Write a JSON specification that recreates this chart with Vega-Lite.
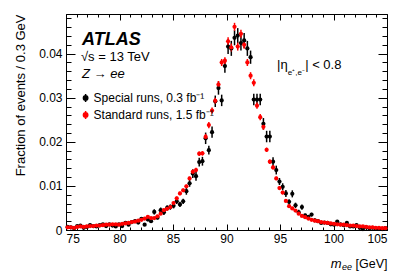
{
"$schema": "https://vega.github.io/schema/vega-lite/v6.json",
"width": 321, "height": 216,
"autosize": {"type": "none"},
"padding": {"left": 66, "top": 14, "right": 20, "bottom": 47},
"background": "white",
"config": {
  "font": "Liberation Sans",
  "view": {"stroke": "black", "strokeWidth": 1},
  "axis": {"grid": false, "domain": false, "labelColor": "black", "titleColor": "black", "tickColor": "black", "tickWidth": 1, "labelFont": "Liberation Sans", "titleFont": "Liberation Sans", "labelFontSize": 12, "titleFontSize": 12.5, "titleFontWeight": "normal"},
  "legend": {"orient": "none", "legendX": 13.6, "legendY": 78, "title": null, "padding": 0, "symbolType": "M0,-1V1M-0.55,0A0.55,0.55,0,1,1,0.55,0A0.55,0.55,0,1,1,-0.55,0Z", "symbolSize": 64, "symbolStrokeWidth": 1.5, "labelFontSize": 12, "labelFont": "Liberation Sans", "labelColor": "black", "labelOffset": 2, "rowPadding": 3},
  "text": {"font": "Liberation Sans", "color": "black"}
},
"datasets": {"pts": [
{"m":75.15,"f":0.0007,"e":0.0003,"s":"Special"},
{"m":75.45,"f":0.0006,"e":0.0003,"s":"Special"},
{"m":75.75,"f":0.0004,"e":0.0003,"s":"Special"},
{"m":76.05,"f":0.0009,"e":0.0003,"s":"Special"},
{"m":76.35,"f":0.0010,"e":0.0003,"s":"Special"},
{"m":76.65,"f":0.0005,"e":0.0003,"s":"Special"},
{"m":76.95,"f":0.0007,"e":0.0003,"s":"Special"},
{"m":77.25,"f":0.0011,"e":0.0003,"s":"Special"},
{"m":77.55,"f":0.0009,"e":0.0003,"s":"Special"},
{"m":77.85,"f":0.0008,"e":0.0003,"s":"Special"},
{"m":78.15,"f":0.0011,"e":0.0003,"s":"Special"},
{"m":78.45,"f":0.0013,"e":0.0003,"s":"Special"},
{"m":78.75,"f":0.0009,"e":0.0003,"s":"Special"},
{"m":79.05,"f":0.0013,"e":0.0003,"s":"Special"},
{"m":79.35,"f":0.0010,"e":0.0003,"s":"Special"},
{"m":79.65,"f":0.0008,"e":0.0003,"s":"Special"},
{"m":79.95,"f":0.0013,"e":0.0003,"s":"Special"},
{"m":80.25,"f":0.0009,"e":0.0003,"s":"Special"},
{"m":80.55,"f":0.0016,"e":0.0003,"s":"Special"},
{"m":80.85,"f":0.0012,"e":0.0003,"s":"Special"},
{"m":81.15,"f":0.0018,"e":0.0003,"s":"Special"},
{"m":81.45,"f":0.0020,"e":0.0004,"s":"Special"},
{"m":81.75,"f":0.0017,"e":0.0003,"s":"Special"},
{"m":82.05,"f":0.0025,"e":0.0004,"s":"Special"},
{"m":82.35,"f":0.0012,"e":0.0003,"s":"Special"},
{"m":82.65,"f":0.0024,"e":0.0004,"s":"Special"},
{"m":82.95,"f":0.0020,"e":0.0004,"s":"Special"},
{"m":83.25,"f":0.0041,"e":0.0006,"s":"Special"},
{"m":83.55,"f":0.0028,"e":0.0004,"s":"Special"},
{"m":83.85,"f":0.0045,"e":0.0006,"s":"Special"},
{"m":84.15,"f":0.0040,"e":0.0006,"s":"Special"},
{"m":84.45,"f":0.0050,"e":0.0006,"s":"Special"},
{"m":84.75,"f":0.0052,"e":0.0006,"s":"Special"},
{"m":85.05,"f":0.0055,"e":0.0006,"s":"Special"},
{"m":85.35,"f":0.0065,"e":0.0006,"s":"Special"},
{"m":85.65,"f":0.0058,"e":0.0006,"s":"Special"},
{"m":85.95,"f":0.0065,"e":0.0006,"s":"Special"},
{"m":86.25,"f":0.0088,"e":0.0008,"s":"Special"},
{"m":86.55,"f":0.0106,"e":0.0008,"s":"Special"},
{"m":86.85,"f":0.0128,"e":0.0010,"s":"Special"},
{"m":87.15,"f":0.0122,"e":0.0010,"s":"Special"},
{"m":87.45,"f":0.0154,"e":0.0010,"s":"Special"},
{"m":87.75,"f":0.0156,"e":0.0010,"s":"Special"},
{"m":88.05,"f":0.0208,"e":0.0013,"s":"Special"},
{"m":88.35,"f":0.0181,"e":0.0010,"s":"Special"},
{"m":88.65,"f":0.0222,"e":0.0013,"s":"Special"},
{"m":88.95,"f":0.0292,"e":0.0013,"s":"Special"},
{"m":89.25,"f":0.0322,"e":0.0015,"s":"Special"},
{"m":89.55,"f":0.0294,"e":0.0013,"s":"Special"},
{"m":89.85,"f":0.0372,"e":0.0015,"s":"Special"},
{"m":90.15,"f":0.0416,"e":0.0017,"s":"Special"},
{"m":90.45,"f":0.0412,"e":0.0017,"s":"Special"},
{"m":90.75,"f":0.0436,"e":0.0017,"s":"Special"},
{"m":91.05,"f":0.0441,"e":0.0017,"s":"Special"},
{"m":91.35,"f":0.0424,"e":0.0017,"s":"Special"},
{"m":91.65,"f":0.0430,"e":0.0017,"s":"Special"},
{"m":91.95,"f":0.0412,"e":0.0017,"s":"Special"},
{"m":92.25,"f":0.0392,"e":0.0015,"s":"Special"},
{"m":92.55,"f":0.0296,"e":0.0013,"s":"Special"},
{"m":92.85,"f":0.0296,"e":0.0013,"s":"Special"},
{"m":93.15,"f":0.0296,"e":0.0013,"s":"Special"},
{"m":93.45,"f":0.0241,"e":0.0013,"s":"Special"},
{"m":93.75,"f":0.0212,"e":0.0013,"s":"Special"},
{"m":94.05,"f":0.0212,"e":0.0013,"s":"Special"},
{"m":94.35,"f":0.0155,"e":0.0010,"s":"Special"},
{"m":94.65,"f":0.0136,"e":0.0010,"s":"Special"},
{"m":94.95,"f":0.0110,"e":0.0008,"s":"Special"},
{"m":95.25,"f":0.0098,"e":0.0008,"s":"Special"},
{"m":95.55,"f":0.0083,"e":0.0008,"s":"Special"},
{"m":95.85,"f":0.0064,"e":0.0006,"s":"Special"},
{"m":96.15,"f":0.0082,"e":0.0008,"s":"Special"},
{"m":96.45,"f":0.0056,"e":0.0006,"s":"Special"},
{"m":96.75,"f":0.0040,"e":0.0006,"s":"Special"},
{"m":97.05,"f":0.0052,"e":0.0006,"s":"Special"},
{"m":97.35,"f":0.0033,"e":0.0004,"s":"Special"},
{"m":97.65,"f":0.0030,"e":0.0004,"s":"Special"},
{"m":97.95,"f":0.0035,"e":0.0004,"s":"Special"},
{"m":98.25,"f":0.0022,"e":0.0004,"s":"Special"},
{"m":98.55,"f":0.0020,"e":0.0004,"s":"Special"},
{"m":98.85,"f":0.0016,"e":0.0003,"s":"Special"},
{"m":99.15,"f":0.0017,"e":0.0003,"s":"Special"},
{"m":99.45,"f":0.0016,"e":0.0003,"s":"Special"},
{"m":99.75,"f":0.0013,"e":0.0003,"s":"Special"},
{"m":100.05,"f":0.0012,"e":0.0003,"s":"Special"},
{"m":100.35,"f":0.0019,"e":0.0003,"s":"Special"},
{"m":100.65,"f":0.0013,"e":0.0003,"s":"Special"},
{"m":100.95,"f":0.0011,"e":0.0003,"s":"Special"},
{"m":101.25,"f":0.0016,"e":0.0003,"s":"Special"},
{"m":101.55,"f":0.0008,"e":0.0003,"s":"Special"},
{"m":101.85,"f":0.0008,"e":0.0003,"s":"Special"},
{"m":102.15,"f":0.0011,"e":0.0003,"s":"Special"},
{"m":102.45,"f":0.0005,"e":0.0003,"s":"Special"},
{"m":102.75,"f":0.0002,"e":0.0003,"s":"Special"},
{"m":103.05,"f":0.0006,"e":0.0003,"s":"Special"},
{"m":103.35,"f":0.0004,"e":0.0003,"s":"Special"},
{"m":103.65,"f":0.0005,"e":0.0003,"s":"Special"},
{"m":103.95,"f":0.0003,"e":0.0003,"s":"Special"},
{"m":104.25,"f":0.0003,"e":0.0003,"s":"Special"},
{"m":104.55,"f":0.0002,"e":0.0003,"s":"Special"},
{"m":104.85,"f":0.0004,"e":0.0003,"s":"Special"},
{"m":75.15,"f":0.0006,"e":0.0002,"s":"Standard"},
{"m":75.45,"f":0.0006,"e":0.0002,"s":"Standard"},
{"m":75.75,"f":0.0005,"e":0.0002,"s":"Standard"},
{"m":76.05,"f":0.0007,"e":0.0002,"s":"Standard"},
{"m":76.35,"f":0.0008,"e":0.0002,"s":"Standard"},
{"m":76.65,"f":0.0007,"e":0.0002,"s":"Standard"},
{"m":76.95,"f":0.0008,"e":0.0002,"s":"Standard"},
{"m":77.25,"f":0.0009,"e":0.0002,"s":"Standard"},
{"m":77.55,"f":0.0009,"e":0.0002,"s":"Standard"},
{"m":77.85,"f":0.0010,"e":0.0002,"s":"Standard"},
{"m":78.15,"f":0.0010,"e":0.0002,"s":"Standard"},
{"m":78.45,"f":0.0011,"e":0.0002,"s":"Standard"},
{"m":78.75,"f":0.0012,"e":0.0002,"s":"Standard"},
{"m":79.05,"f":0.0012,"e":0.0002,"s":"Standard"},
{"m":79.35,"f":0.0013,"e":0.0002,"s":"Standard"},
{"m":79.65,"f":0.0013,"e":0.0002,"s":"Standard"},
{"m":79.95,"f":0.0012,"e":0.0002,"s":"Standard"},
{"m":80.25,"f":0.0014,"e":0.0002,"s":"Standard"},
{"m":80.55,"f":0.0015,"e":0.0002,"s":"Standard"},
{"m":80.85,"f":0.0016,"e":0.0002,"s":"Standard"},
{"m":81.15,"f":0.0018,"e":0.0002,"s":"Standard"},
{"m":81.45,"f":0.0019,"e":0.0002,"s":"Standard"},
{"m":81.75,"f":0.0021,"e":0.0002,"s":"Standard"},
{"m":82.05,"f":0.0023,"e":0.0002,"s":"Standard"},
{"m":82.35,"f":0.0026,"e":0.0002,"s":"Standard"},
{"m":82.65,"f":0.0030,"e":0.0002,"s":"Standard"},
{"m":82.95,"f":0.0027,"e":0.0002,"s":"Standard"},
{"m":83.25,"f":0.0027,"e":0.0002,"s":"Standard"},
{"m":83.55,"f":0.0031,"e":0.0002,"s":"Standard"},
{"m":83.85,"f":0.0037,"e":0.0002,"s":"Standard"},
{"m":84.15,"f":0.0045,"e":0.0003,"s":"Standard"},
{"m":84.45,"f":0.0048,"e":0.0003,"s":"Standard"},
{"m":84.75,"f":0.0052,"e":0.0003,"s":"Standard"},
{"m":85.05,"f":0.0061,"e":0.0003,"s":"Standard"},
{"m":85.35,"f":0.0072,"e":0.0004,"s":"Standard"},
{"m":85.65,"f":0.0083,"e":0.0004,"s":"Standard"},
{"m":85.95,"f":0.0090,"e":0.0004,"s":"Standard"},
{"m":86.25,"f":0.0099,"e":0.0004,"s":"Standard"},
{"m":86.55,"f":0.0117,"e":0.0004,"s":"Standard"},
{"m":86.85,"f":0.0132,"e":0.0005,"s":"Standard"},
{"m":87.15,"f":0.0136,"e":0.0005,"s":"Standard"},
{"m":87.45,"f":0.0173,"e":0.0005,"s":"Standard"},
{"m":87.75,"f":0.0174,"e":0.0005,"s":"Standard"},
{"m":88.05,"f":0.0211,"e":0.0007,"s":"Standard"},
{"m":88.35,"f":0.0238,"e":0.0007,"s":"Standard"},
{"m":88.65,"f":0.0271,"e":0.0007,"s":"Standard"},
{"m":88.95,"f":0.0293,"e":0.0007,"s":"Standard"},
{"m":89.25,"f":0.0330,"e":0.0008,"s":"Standard"},
{"m":89.55,"f":0.0380,"e":0.0008,"s":"Standard"},
{"m":89.85,"f":0.0384,"e":0.0008,"s":"Standard"},
{"m":90.15,"f":0.0428,"e":0.0009,"s":"Standard"},
{"m":90.45,"f":0.0414,"e":0.0009,"s":"Standard"},
{"m":90.75,"f":0.0461,"e":0.0009,"s":"Standard"},
{"m":91.05,"f":0.0416,"e":0.0009,"s":"Standard"},
{"m":91.35,"f":0.0445,"e":0.0009,"s":"Standard"},
{"m":91.65,"f":0.0420,"e":0.0009,"s":"Standard"},
{"m":91.95,"f":0.0380,"e":0.0008,"s":"Standard"},
{"m":92.25,"f":0.0350,"e":0.0008,"s":"Standard"},
{"m":92.55,"f":0.0334,"e":0.0008,"s":"Standard"},
{"m":92.85,"f":0.0282,"e":0.0007,"s":"Standard"},
{"m":93.15,"f":0.0256,"e":0.0007,"s":"Standard"},
{"m":93.45,"f":0.0234,"e":0.0007,"s":"Standard"},
{"m":93.75,"f":0.0182,"e":0.0005,"s":"Standard"},
{"m":94.05,"f":0.0155,"e":0.0005,"s":"Standard"},
{"m":94.35,"f":0.0142,"e":0.0005,"s":"Standard"},
{"m":94.65,"f":0.0117,"e":0.0004,"s":"Standard"},
{"m":94.95,"f":0.0095,"e":0.0004,"s":"Standard"},
{"m":95.25,"f":0.0085,"e":0.0004,"s":"Standard"},
{"m":95.55,"f":0.0066,"e":0.0003,"s":"Standard"},
{"m":95.85,"f":0.0054,"e":0.0003,"s":"Standard"},
{"m":96.15,"f":0.0049,"e":0.0003,"s":"Standard"},
{"m":96.45,"f":0.0044,"e":0.0003,"s":"Standard"},
{"m":96.75,"f":0.0037,"e":0.0002,"s":"Standard"},
{"m":97.05,"f":0.0032,"e":0.0002,"s":"Standard"},
{"m":97.35,"f":0.0029,"e":0.0002,"s":"Standard"},
{"m":97.65,"f":0.0026,"e":0.0002,"s":"Standard"},
{"m":97.95,"f":0.0023,"e":0.0002,"s":"Standard"},
{"m":98.25,"f":0.0021,"e":0.0002,"s":"Standard"},
{"m":98.55,"f":0.0020,"e":0.0002,"s":"Standard"},
{"m":98.85,"f":0.0018,"e":0.0002,"s":"Standard"},
{"m":99.15,"f":0.0017,"e":0.0002,"s":"Standard"},
{"m":99.45,"f":0.0016,"e":0.0002,"s":"Standard"},
{"m":99.75,"f":0.0015,"e":0.0002,"s":"Standard"},
{"m":100.05,"f":0.0014,"e":0.0002,"s":"Standard"},
{"m":100.35,"f":0.0013,"e":0.0002,"s":"Standard"},
{"m":100.65,"f":0.0012,"e":0.0002,"s":"Standard"},
{"m":100.95,"f":0.0012,"e":0.0002,"s":"Standard"},
{"m":101.25,"f":0.0011,"e":0.0002,"s":"Standard"},
{"m":101.55,"f":0.0010,"e":0.0002,"s":"Standard"},
{"m":101.85,"f":0.0010,"e":0.0002,"s":"Standard"},
{"m":102.15,"f":0.0009,"e":0.0002,"s":"Standard"},
{"m":102.45,"f":0.0008,"e":0.0002,"s":"Standard"},
{"m":102.75,"f":0.0008,"e":0.0002,"s":"Standard"},
{"m":103.05,"f":0.0007,"e":0.0002,"s":"Standard"},
{"m":103.35,"f":0.0006,"e":0.0002,"s":"Standard"},
{"m":103.65,"f":0.0006,"e":0.0002,"s":"Standard"},
{"m":103.95,"f":0.0005,"e":0.0002,"s":"Standard"},
{"m":104.25,"f":0.0005,"e":0.0002,"s":"Standard"},
{"m":104.55,"f":0.0004,"e":0.0002,"s":"Standard"},
{"m":104.85,"f":0.0004,"e":0.0002,"s":"Standard"}
]},
"layer": [
{
  "data": {"name": "pts"},
  "mark": {"type": "errorbar", "thickness": 1.5},
  "encoding": {
    "x": {"field": "m", "type": "quantitative", "axis": null},
    "y": {"field": "f", "type": "quantitative", "axis": null},
    "yError": {"field": "e"},
    "color": {"field": "s", "type": "nominal", "scale": {"domain": ["Special", "Standard"], "range": ["#000000", "#ff0000"]},
      "legend": {"labelExpr": "datum.label == 'Special' ? 'Special runs, 0.3 fb⁻¹' : 'Standard runs, 1.5 fb⁻¹'"}}
  }
},
{
  "data": {"name": "pts"},
  "mark": {"type": "point", "filled": true, "size": 18, "opacity": 1},
  "encoding": {
    "x": {"field": "m", "type": "quantitative", "scale": {"domain": [75, 105], "nice": false, "zero": false},
      "axis": {"orient": "bottom", "values": [75, 80, 85, 90, 95, 100, 105], "labels": true, "ticks": false, "labelPadding": 3, "title": "[GeV]", "titleX": 321, "titleY": 37, "titleAlign": "right", "titleBaseline": "alphabetic"}},
    "y": {"field": "f", "type": "quantitative", "scale": {"domain": [0, 0.049], "nice": false, "zero": true},
      "axis": {"orient": "left", "values": [0, 0.01, 0.02, 0.03, 0.04], "format": "~g", "labels": true, "ticks": false, "labelPadding": 4, "title": "Fraction of events / 0.3 GeV", "titleX": -42, "titleY": 0, "titleAngle": 270, "titleAlign": "right", "titleBaseline": "alphabetic", "titleFontSize": 13}},
    "color": {"field": "s", "type": "nominal", "scale": {"domain": ["Special", "Standard"], "range": ["#000000", "#ff0000"]},
      "legend": {"labelExpr": "datum.label == 'Special' ? 'Special runs, 0.3 fb⁻¹' : 'Standard runs, 1.5 fb⁻¹'",
        "encode": {"symbols": {"update": {"stroke": {"scale": "color", "field": "value"}, "fill": {"scale": "color", "field": "value"}}}}}}
  }
},
{
  "data": {"values": [{}]},
  "mark": {"type": "text", "text": "ATLAS", "fontSize": 18, "fontWeight": "bold", "fontStyle": "italic", "align": "left", "baseline": "alphabetic"},
  "encoding": {
    "x": {"datum": 76.5, "type": "quantitative", "axis": {"orient": "bottom", "values": [75, 80, 85, 90, 95, 100, 105], "labels": false, "ticks": true, "tickSize": -6, "title": "m", "titleFontStyle": "italic", "titleFontSize": 13, "titleX": 264.3, "titleY": 37, "titleAlign": "left", "titleBaseline": "alphabetic"}},
    "y": {"datum": 0.0419, "type": "quantitative", "axis": {"orient": "left", "values": [0, 0.01, 0.02, 0.03, 0.04], "labels": false, "ticks": true, "tickSize": -9, "title": null}}
  }
},
{
  "data": {"values": [{}]},
  "mark": {"type": "text", "text": "√s = 13 TeV", "fontSize": 13, "align": "left", "baseline": "alphabetic"},
  "encoding": {
    "x": {"datum": 76.4, "type": "quantitative", "axis": {"orient": "bottom", "values": [75,76,77,78,79,80,81,82,83,84,85,86,87,88,89,90,91,92,93,94,95,96,97,98,99,100,101,102,103,104,105], "labels": false, "ticks": true, "tickSize": -3, "title": "ee", "titleFontStyle": "italic", "titleFontSize": 9, "titleX": 275.5, "titleY": 39.5, "titleAlign": "left", "titleBaseline": "alphabetic"}},
    "y": {"datum": 0.0383, "type": "quantitative", "axis": {"orient": "left", "values": [0,0.002,0.004,0.006,0.008,0.01,0.012,0.014,0.016,0.018,0.02,0.022,0.024,0.026,0.028,0.03,0.032,0.034,0.036,0.038,0.04,0.042,0.044,0.046,0.048], "labels": false, "ticks": true, "tickSize": -5, "title": null}}
  }
},
{
  "data": {"values": [{}]},
  "mark": {"type": "text", "text": "Z → ee", "fontSize": 13, "fontStyle": "italic", "align": "left", "baseline": "alphabetic"},
  "encoding": {
    "x": {"datum": 76.5, "type": "quantitative", "axis": {"orient": "top", "values": [75, 80, 85, 90, 95, 100, 105], "labels": false, "ticks": true, "tickSize": -6, "title": null}},
    "y": {"datum": 0.0344, "type": "quantitative", "axis": {"orient": "right", "values": [0, 0.01, 0.02, 0.03, 0.04], "labels": false, "ticks": true, "tickSize": -9, "title": null}}
  }
},
{
  "data": {"values": [{}]},
  "mark": {"type": "text", "text": "|η", "fontSize": 13, "align": "left", "baseline": "alphabetic"},
  "encoding": {
    "x": {"datum": 94.72, "type": "quantitative", "axis": {"orient": "top", "values": [75,76,77,78,79,80,81,82,83,84,85,86,87,88,89,90,91,92,93,94,95,96,97,98,99,100,101,102,103,104,105], "labels": false, "ticks": true, "tickSize": -3, "title": null}},
    "y": {"datum": 0.0365, "type": "quantitative", "axis": {"orient": "right", "values": [0,0.002,0.004,0.006,0.008,0.01,0.012,0.014,0.016,0.018,0.02,0.022,0.024,0.026,0.028,0.03,0.032,0.034,0.036,0.038,0.04,0.042,0.044,0.046,0.048], "labels": false, "ticks": true, "tickSize": -5, "title": null}}
  }
},
{
  "data": {"values": [{}]},
  "mark": {"type": "text", "text": "e⁺,e⁻", "fontSize": 8, "align": "left", "baseline": "alphabetic"},
  "encoding": {
    "x": {"datum": 95.72, "type": "quantitative", "axis": null},
    "y": {"datum": 0.0352, "type": "quantitative", "axis": null}
  }
},
{
  "data": {"values": [{}]},
  "mark": {"type": "text", "text": "| < 0.8", "fontSize": 13, "align": "left", "baseline": "alphabetic"},
  "encoding": {
    "x": {"datum": 97.35, "type": "quantitative", "axis": null},
    "y": {"datum": 0.0365, "type": "quantitative", "axis": null}
  }
}
],
"resolve": {"axis": {"x": "independent", "y": "independent"}}
}
